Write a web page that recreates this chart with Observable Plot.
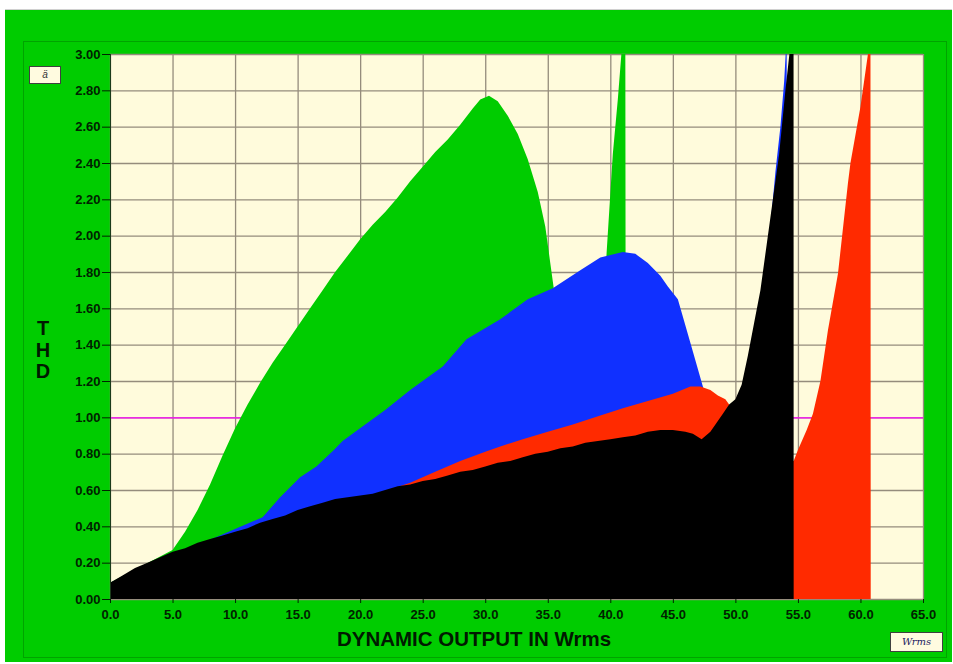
<!DOCTYPE html>
<html><head><meta charset="utf-8">
<script src="https://cdn.jsdelivr.net/npm/d3@7"></script>
<script src="https://cdn.jsdelivr.net/npm/@observablehq/plot@0.6"></script>
<style>
body{margin:0;background:#fff;width:953px;height:664px;position:relative;overflow:hidden;font-family:"Liberation Sans",Arial,sans-serif}
#bg{position:absolute;left:5px;top:9px;width:947px;height:652px;background:#00cc00;border-top:1px solid #d0d0d0}
#frame{position:absolute;left:23px;top:41px;width:922px;height:615px;border:1px solid #00a400}
#chart{position:absolute;left:0;top:0}
#ylab{position:absolute;left:33px;top:318px;width:20px;text-align:center;font-weight:bold;font-size:20px;line-height:21.5px;color:#001a00}
#xlab{position:absolute;left:274px;width:400px;top:627px;text-align:center;font-weight:bold;font-size:20.5px;color:#001a00}
#btn{position:absolute;left:29px;top:66px;width:30px;height:16px;background:#fffbe0;border:1px solid #404040;font-size:10px;text-align:center;line-height:16px;color:#333;font-style:italic}
#wrms{position:absolute;left:890px;top:632px;width:51px;height:18px;background:#fffbe0;border:1px solid #404040;font-size:10px;text-align:center;line-height:18px;color:#1a1a60;font-style:italic;font-family:"DejaVu Serif",serif}
</style></head>
<body>
<div id="bg"></div>
<div id="frame"></div>
<div id="chart"></div>
<div id="ylab">T<br>H<br>D</div>
<div id="xlab">DYNAMIC OUTPUT IN Wrms</div>
<div id="btn">ä</div>
<div id="wrms">Wrms</div>
<script>
// x tick labels and y tick labels
const xTicks = [0,5,10,15,20,25,30,35,40,45,50,55,60,65];
const yTicks = [0,0.2,0.4,0.6,0.8,1.0,1.2,1.4,1.6,1.8,2.0,2.2,2.4,2.6,2.8,3.0];
const refLine = [1.0];

// Green series (THD vs Wrms)
const greenX = [0,5,6,7,8,9,10,11,12,13,14,15,16,17,18,19,20,21,22,23,24,25,26,27,28,29,29.6,30.3,31,31.8,32.6,33.4,34.2,34.8,35.2,35.5,36,39.5,39.7,40.2,40.6,41.0,41.2,41.25];
const greenY = [0.09,0.27,0.37,0.49,0.63,0.79,0.94,1.07,1.19,1.30,1.40,1.50,1.60,1.70,1.80,1.89,1.98,2.06,2.13,2.21,2.30,2.38,2.46,2.53,2.61,2.70,2.75,2.77,2.74,2.66,2.56,2.42,2.24,2.05,1.85,1.70,0.6,1.6,1.90,2.45,2.75,3.1,3.1,0];

// Blue series
const blueX = [0,12.2,13.6,15.2,16.5,17.9,18.6,19.8,22,24,26.6,28.5,31.2,33.4,35.4,37.6,39.2,41.0,42,43,44,44.6,45.4,46.4,47.4,47.7,48.5,50,52,52.6,53.2,53.6,53.9,54.1,54.15];
const blueY = [0.09,0.45,0.56,0.67,0.73,0.82,0.87,0.93,1.04,1.15,1.28,1.43,1.54,1.65,1.71,1.81,1.88,1.91,1.90,1.85,1.78,1.72,1.65,1.41,1.17,1.10,0.95,0.95,1.40,1.90,2.35,2.60,2.85,3.1,0];

// Red series
const redX = [0,24,26,28,30,31.2,33,35,37,39.2,41,43,45,46.4,47.2,48,48.6,49.2,49.5,49.8,52,54.6,54.66,55.0,55.7,56.2,56.8,57.4,58.2,59.0,59.2,60.0,60.6,60.8,60.82];
const redY = [0.09,0.64,0.70,0.76,0.81,0.84,0.88,0.92,0.96,1.01,1.05,1.09,1.13,1.17,1.17,1.15,1.12,1.10,1.07,0.98,0.85,0.76,0.76,0.82,0.93,1.02,1.20,1.48,1.79,2.29,2.40,2.71,3.00,3.1,0];

// Black series
const blackX = [0,1,2,3,4,5,6,7,8,9,10,11,12,13,14,15,16,17,18,19,20,21,22,23,24,25,26,27,28,29,30,31,32,33,34,35,36,37,38,39,40,41,42,43,44,45,46,46.6,47.3,48,48.5,49,49.5,50,50.5,51,51.5,52,52.5,53,53.5,54,54.4,54.65,54.66];
const blackY = [0.09,0.13,0.17,0.20,0.23,0.26,0.28,0.31,0.33,0.35,0.37,0.39,0.42,0.44,0.46,0.49,0.51,0.53,0.55,0.56,0.57,0.58,0.60,0.62,0.63,0.65,0.66,0.68,0.70,0.71,0.73,0.75,0.76,0.78,0.80,0.81,0.83,0.84,0.86,0.87,0.88,0.89,0.90,0.92,0.93,0.93,0.92,0.91,0.88,0.92,0.97,1.02,1.07,1.10,1.18,1.34,1.52,1.70,1.95,2.20,2.45,2.80,3.05,3.1,0];

const toRows = (xs, ys) => xs.map((x, i) => ({x, y: ys[i]}));
const green = toRows(greenX, greenY);
const blue = toRows(blueX, blueY);
const red = toRows(redX, redY);
const black = toRows(blackX, blackY);

const ink = "#002200";
const chart = Plot.plot({
  width: 953, height: 664,
  marginLeft: 110, marginRight: 30, marginTop: 54, marginBottom: 65,
  style: {background: "transparent", fontFamily: "'Liberation Sans', Arial, sans-serif", fontSize: "13px", fontWeight: "bold"},
  x: {domain: [0, 65]},
  y: {domain: [0, 3]},
  marks: [
    Plot.frame({fill: "#fffbdc", stroke: null}),
    Plot.gridX(xTicks, {stroke: "#958c7c", strokeOpacity: 1, strokeWidth: 1.3}),
    Plot.gridY(yTicks, {stroke: "#958c7c", strokeOpacity: 1, strokeWidth: 1.3}),
    Plot.ruleY(refLine, {stroke: "#ff00ff", strokeWidth: 1.3}),
    Plot.areaY(green, {x: "x", y: "y", fill: "#00cc00", clip: true}),
    Plot.areaY(blue, {x: "x", y: "y", fill: "#1030ff", clip: true}),
    Plot.areaY(red, {x: "x", y: "y", fill: "#ff2a00", clip: true}),
    Plot.areaY(black, {x: "x", y: "y", fill: "#000000", clip: true}),
    Plot.ruleX([0], {stroke: "#1a3a1a", strokeWidth: 1}),
    Plot.axisX(xTicks, {tickFormat: d3.format(".1f"), tickSize: 4, tickPadding: 6, color: ink, label: null}),
    Plot.axisY(yTicks, {tickFormat: d3.format(".2f"), tickSize: 8, tickPadding: 2, color: ink, label: null})
  ]
});
document.getElementById("chart").appendChild(chart);
</script>
</body></html>
